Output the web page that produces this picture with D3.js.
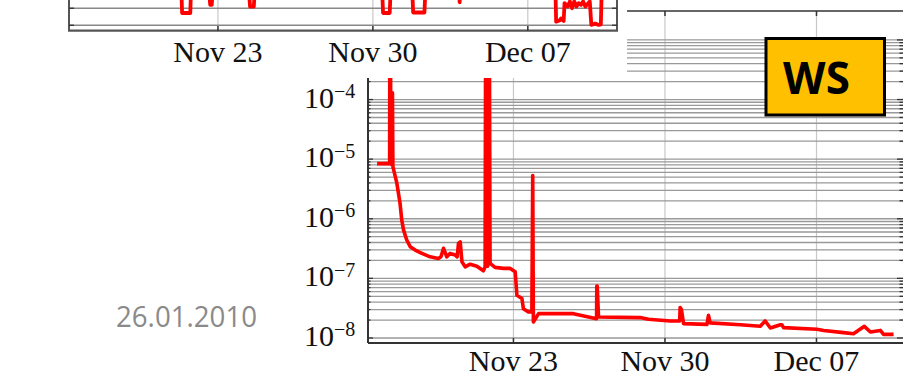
<!DOCTYPE html>
<html><head><meta charset="utf-8">
<script src="https://cdn.jsdelivr.net/npm/d3@7"></script>
<style>html,body{margin:0;padding:0;background:#ffffff;} svg{display:block}</style>
</head><body><svg id="c" width="903" height="377"></svg>
<script>
// ---- data: day numbers counted in November 2009 (31 = Dec 1) ----
const mainDays = [16.70,17.28,17.29,17.32,17.33,17.38,17.39,17.41,17.43,17.61,17.76,17.84,17.92,18.07,18.23,18.46,18.77,19.15,19.53,19.65,19.77,19.92,20.07,20.31,20.40,20.46,20.54,20.62,20.77,21.00,21.31,21.61,21.69,21.72,21.75,21.78,21.81,21.84,21.88,21.92,22.15,22.54,22.85,23.08,23.16,23.39,23.46,23.69,23.85,23.89,23.92,24.16,25.77,26.84,26.85,26.87,26.93,28.85,29.24,30.24,30.68,30.70,30.76,30.86,31.94,32.01,32.09,33.48,34.40,34.63,34.87,35.33,35.40,35.48,37.02,37.33,38.25,38.71,39.21,39.49,39.95,40.10,40.56];
const mainValues = [8.4e-6,8.4e-6,1e-2,1e-2,8.4e-6,8.0e-6,1.3e-4,1.3e-4,7.5e-6,4.0e-6,1.82e-6,9.5e-7,6.5e-7,4.4e-7,3.4e-7,2.98e-7,2.62e-7,2.30e-7,2.16e-7,2.3e-7,3.19e-7,2.30e-7,2.62e-7,2.46e-7,2.3e-7,3.87e-7,4.1e-7,1.90e-7,1.56e-7,1.73e-7,1.60e-7,1.34e-7,1.56e-7,1e-2,1.6e-7,1e-2,1.6e-7,1e-2,1e-2,1.78e-7,1.53e-7,1.47e-7,1.47e-7,1.29e-7,5.2e-8,4.6e-8,3.1e-8,2.74e-8,2.74e-8,5.3e-6,1.85e-8,2.56e-8,2.56e-8,2.11e-8,7.4e-8,7.4e-8,2.25e-8,2.20e-8,2.06e-8,1.93e-8,1.93e-8,3.24e-8,3.0e-8,1.74e-8,1.69e-8,2.40e-8,1.79e-8,1.67e-8,1.57e-8,1.93e-8,1.47e-8,1.67e-8,1.67e-8,1.49e-8,1.40e-8,1.34e-8,1.23e-8,1.18e-8,1.57e-8,1.26e-8,1.34e-8,1.15e-8,1.15e-8];

const overlayDays = [16.3,21.35,21.38,21.75,21.78,22.60,22.65,22.72,22.76,24.40,24.45,24.62,24.66,30.42,30.46,30.76,30.80,31.78,31.82,32.33,32.37,33.90,33.92,33.95,38.25,38.28,38.45,38.50,38.62,38.66,38.8,38.9,39.0,39.1,39.2,39.3,39.4,39.5,39.6,39.8,39.87,40.05,40.2,40.30,40.33];
const overlayValues = [3,3,1.72,1.72,3,3,2.2,2.2,3,3,2.1,2.1,3,3,1.72,1.72,3,3,1.75,1.75,3,3,2.35,3,3,1.21,1.3,1.4,1.25,2.3,2.1,2.4,2.0,2.4,2.1,2.3,2.2,2.4,2.1,2.4,1.02,1.1,1.02,1.05,2.6];

const dateTickDays = [23, 30, 37];
const dateTickLabels = ["Nov 23", "Nov 30", "Dec 07"];
const gridDecades = [-8, -7, -6, -5, -4, -3];
const labelDecades = [-8, -7, -6, -5, -4];
const overlayGridValues = [1, 2];
const stampText = "26.01.2010";
const badgeText = "WS";

// ---- helpers ----
const toDate = d => new Date(Date.UTC(2009, 10, 1) + (d - 1) * 864e5);
const svg = d3.select("#c");
const serif = "'Liberation Serif','Times New Roman',serif";

// ---- main chart ----
const x = d3.scaleUtc().domain([toDate(16.28), toDate(41.02)]).range([368, 903.5]);
const y = d3.scaleLog().domain([Math.pow(10, -8.084), Math.pow(10, -2.515)]).range([343, 11]);

svg.append("rect").attr("x", 0).attr("y", 0).attr("width", 903).attr("height", 377).attr("fill", "#fff");

const gridVals = [];
gridDecades.forEach(e => { for (let k = 1; k <= 9; k++) { const v = k * Math.pow(10, e); if (v <= 1.0001e-3) gridVals.push(v); } });

const main = svg.append("g");
main.selectAll("line.vg").data(dateTickDays).join("line")
  .attr("x1", d => x(toDate(d))).attr("x2", d => x(toDate(d)))
  .attr("y1", 11).attr("y2", 343).attr("stroke", "#c8c8c8").attr("stroke-width", 1.2);
main.selectAll("line.hg").data(gridVals).join("line")
  .attr("x1", 368).attr("x2", 903).attr("y1", d => y(d)).attr("y2", d => y(d))
  .attr("stroke", "#999").attr("stroke-width", 1.3);

svg.append("clipPath").attr("id", "mclip").append("rect").attr("x", 368).attr("y", 11).attr("width", 540).attr("height", 332);
const mainData = mainDays.map((d, i) => [toDate(d), mainValues[i]]);
main.append("path").datum(mainData).attr("clip-path", "url(#mclip)")
  .attr("d", d3.line().x(d => x(d[0])).y(d => y(d[1])))
  .attr("fill", "none").attr("stroke", "#ff0000").attr("stroke-width", 3.6).attr("stroke-linejoin", "round");

// axes box
main.append("line").attr("x1", 368).attr("x2", 903).attr("y1", 343).attr("y2", 343).attr("stroke", "#333").attr("stroke-width", 2);
main.append("line").attr("x1", 368).attr("x2", 368).attr("y1", 11).attr("y2", 343).attr("stroke", "#333").attr("stroke-width", 2);
main.append("line").attr("x1", 368).attr("x2", 903).attr("y1", 11).attr("y2", 11).attr("stroke", "#333").attr("stroke-width", 1.5);
dateTickDays.forEach(d => {
  const xx = x(toDate(d));
  main.append("line").attr("x1", xx).attr("x2", xx).attr("y1", 343).attr("y2", 338).attr("stroke", "#333").attr("stroke-width", 1.5);
  main.append("line").attr("x1", xx).attr("x2", xx).attr("y1", 11).attr("y2", 16).attr("stroke", "#333").attr("stroke-width", 1.5);
});
gridVals.forEach(v => {
  const major = Math.abs(Math.log10(v) - Math.round(Math.log10(v))) < 1e-6;
  const len = major ? 5 : 2.5;
  main.append("line").attr("x1", 368).attr("x2", 368 + len).attr("y1", y(v)).attr("y2", y(v)).attr("stroke", "#333").attr("stroke-width", 1.3);
  main.append("line").attr("x1", 903).attr("x2", 903 - len - 1).attr("y1", y(v)).attr("y2", y(v)).attr("stroke", "#333").attr("stroke-width", 1.3);
});
main.selectAll("text.xl").data(dateTickDays).join("text")
  .attr("x", d => x(toDate(d))).attr("y", 371).attr("text-anchor", "middle")
  .attr("font-family", serif).attr("font-size", 30).attr("fill", "#111")
  .text((d, i) => dateTickLabels[i]);
labelDecades.forEach(e => {
  const yy = y(Math.pow(10, e));
  main.append("text").attr("x", 334).attr("y", yy + 8).attr("text-anchor", "end")
    .attr("font-family", serif).attr("font-size", 30).attr("fill", "#111").text("10");
  main.append("text").attr("x", 334).attr("y", yy - 1.5).attr("text-anchor", "start")
    .attr("font-family", serif).attr("font-size", 20).attr("fill", "#111").text("\u2212" + Math.abs(e));
});

// ---- overlay (upper chart fragment) ----
const ox = d3.scaleUtc().domain([toDate(16.27), toDate(41.03)]).range([69, 617]);
const oy = d3.scaleLinear().domain([0.68, 2.52]).range([30.7, -0.6]);
const ov = svg.append("g");
ov.append("rect").attr("x", 0).attr("y", 0).attr("width", 627).attr("height", 78).attr("fill", "#fff");
ov.selectAll("line.vg").data(dateTickDays).join("line")
  .attr("x1", d => ox(toDate(d))).attr("x2", d => ox(toDate(d)))
  .attr("y1", 0).attr("y2", 30.7).attr("stroke", "#c8c8c8").attr("stroke-width", 1.2);
ov.selectAll("line.hg").data(overlayGridValues).join("line")
  .attr("x1", 69).attr("x2", 617).attr("y1", d => oy(d)).attr("y2", d => oy(d))
  .attr("stroke", "#888").attr("stroke-width", 1.3);
svg.append("clipPath").attr("id", "oclip").append("rect").attr("x", 69).attr("y", 0).attr("width", 548).attr("height", 30.7);
const ovData = overlayDays.map((d, i) => [toDate(d), overlayValues[i]]);
ov.append("path").datum(ovData).attr("clip-path", "url(#oclip)")
  .attr("d", d3.line().x(d => ox(d[0])).y(d => oy(d[1])))
  .attr("fill", "none").attr("stroke", "#ff0000").attr("stroke-width", 3.8).attr("stroke-linejoin", "round");
ov.append("line").attr("x1", 68).attr("x2", 618).attr("y1", 30.7).attr("y2", 30.7).attr("stroke", "#555").attr("stroke-width", 2.2);
ov.append("line").attr("x1", 69).attr("x2", 69).attr("y1", 0).attr("y2", 31).attr("stroke", "#555").attr("stroke-width", 2);
ov.append("line").attr("x1", 617).attr("x2", 617).attr("y1", 0).attr("y2", 31).attr("stroke", "#555").attr("stroke-width", 2);
dateTickDays.forEach(d => {
  const xx = ox(toDate(d));
  ov.append("line").attr("x1", xx).attr("x2", xx).attr("y1", 30.7).attr("y2", 26).attr("stroke", "#333").attr("stroke-width", 1.5);
});
overlayGridValues.forEach(v => {
  ov.append("line").attr("x1", 69).attr("x2", 74).attr("y1", oy(v)).attr("y2", oy(v)).attr("stroke", "#333").attr("stroke-width", 1.3);
  ov.append("line").attr("x1", 617).attr("x2", 612).attr("y1", oy(v)).attr("y2", oy(v)).attr("stroke", "#333").attr("stroke-width", 1.3);
});
ov.selectAll("text.xl").data(dateTickDays).join("text")
  .attr("x", d => ox(toDate(d))).attr("y", 61.5).attr("text-anchor", "middle")
  .attr("font-family", serif).attr("font-size", 30).attr("fill", "#111")
  .text((d, i) => dateTickLabels[i]);

// ---- WS badge ----
svg.append("rect").attr("x", 766).attr("y", 38.5).attr("width", 118.5).attr("height", 76.5)
  .attr("fill", "#ffc000").attr("stroke", "#000").attr("stroke-width", 3);
svg.append("text").attr("x", 816.5).attr("y", 93.5).attr("text-anchor", "middle")
  .attr("font-family", "'Open Sans',sans-serif").attr("font-weight", "bold").attr("font-size", 44).attr("fill", "#000")
  .text(badgeText);

// ---- date stamp ----
svg.append("text").attr("x", 116).attr("y", 326.5)
  .attr("font-family", "'Open Sans',sans-serif").attr("font-size", 29).attr("fill", "#8a8a8a")
  .attr("textLength", 141).attr("lengthAdjust", "spacingAndGlyphs")
  .text(stampText);
</script></body></html>
